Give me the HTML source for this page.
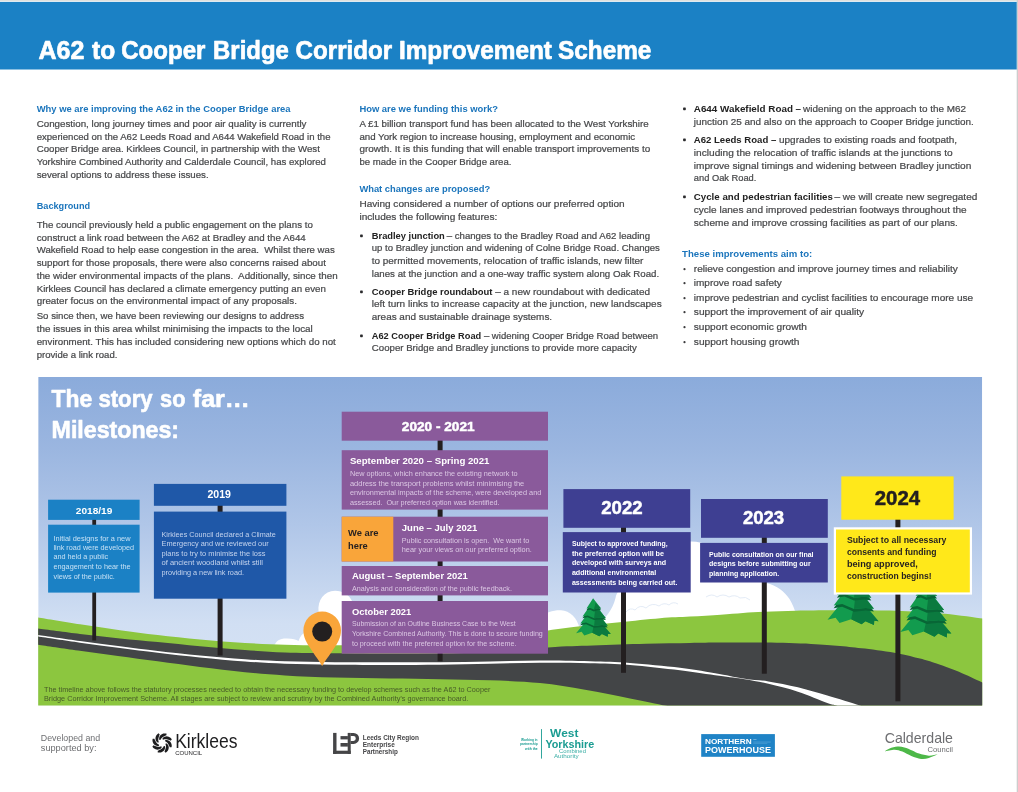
<!DOCTYPE html>
<html><head><meta charset="utf-8"><title>A62 to Cooper Bridge Corridor Improvement Scheme</title>
<style>
html,body{margin:0;padding:0;background:#fff;}
body{width:1018px;height:792px;overflow:hidden;font-family:"Liberation Sans",sans-serif;}
svg{display:block;font-family:"Liberation Sans",sans-serif;}
text{white-space:pre;}
</style></head><body>
<svg width="1018" height="792" viewBox="0 0 1018 792" style="will-change:transform">
<rect x="0.0" y="0.0" width="1018.0" height="792.0" fill="#ffffff"/>
<rect x="0.0" y="0.0" width="1018.0" height="1.2" fill="#e0e0dd"/>
<rect x="0.0" y="1.2" width="1018.0" height="0.9" fill="#d6e6f1"/>
<rect x="1016.7" y="0.0" width="1.3" height="792.0" fill="#cdcdcd"/>
<rect x="0.0" y="2.0" width="1016.7" height="67.5" fill="#1b81c5"/>
<text x="38.5" y="59.0" font-size="26" fill="#fff" font-weight="bold" textLength="45.9" lengthAdjust="spacingAndGlyphs" stroke="#fff" stroke-width="0.7" stroke-linejoin="round">A62</text>
<text x="92.0" y="59.0" font-size="26" fill="#fff" font-weight="bold" textLength="23.2" lengthAdjust="spacingAndGlyphs" stroke="#fff" stroke-width="0.7" stroke-linejoin="round">to</text>
<text x="121.2" y="59.0" font-size="26" fill="#fff" font-weight="bold" textLength="84.2" lengthAdjust="spacingAndGlyphs" stroke="#fff" stroke-width="0.7" stroke-linejoin="round">Cooper</text>
<text x="213.1" y="59.0" font-size="26" fill="#fff" font-weight="bold" textLength="75.7" lengthAdjust="spacingAndGlyphs" stroke="#fff" stroke-width="0.7" stroke-linejoin="round">Bridge</text>
<text x="295.6" y="59.0" font-size="26" fill="#fff" font-weight="bold" textLength="96.5" lengthAdjust="spacingAndGlyphs" stroke="#fff" stroke-width="0.7" stroke-linejoin="round">Corridor</text>
<text x="398.9" y="59.0" font-size="26" fill="#fff" font-weight="bold" textLength="153.1" lengthAdjust="spacingAndGlyphs" stroke="#fff" stroke-width="0.7" stroke-linejoin="round">Improvement</text>
<text x="558.1" y="59.0" font-size="26" fill="#fff" font-weight="bold" textLength="93.3" lengthAdjust="spacingAndGlyphs" stroke="#fff" stroke-width="0.7" stroke-linejoin="round">Scheme</text>
<text x="36.7" y="111.8" font-size="9.6" fill="#1b75bc" font-weight="bold" textLength="253.9" lengthAdjust="spacingAndGlyphs">Why we are improving the A62 in the Cooper Bridge area</text>
<text x="36.7" y="127.0" font-size="9.6" fill="#48494b" textLength="269.8" lengthAdjust="spacingAndGlyphs" stroke="#48494b" stroke-width="0.22">Congestion, long journey times and poor air quality is currently</text>
<text x="36.7" y="139.8" font-size="9.6" fill="#48494b" textLength="293.8" lengthAdjust="spacingAndGlyphs" stroke="#48494b" stroke-width="0.22">experienced on the A62 Leeds Road and A644 Wakefield Road in the</text>
<text x="36.7" y="152.2" font-size="9.6" fill="#48494b" textLength="283.2" lengthAdjust="spacingAndGlyphs" stroke="#48494b" stroke-width="0.22">Cooper Bridge area. Kirklees Council, in partnership with the West</text>
<text x="36.7" y="164.9" font-size="9.6" fill="#48494b" textLength="289.2" lengthAdjust="spacingAndGlyphs" stroke="#48494b" stroke-width="0.22">Yorkshire Combined Authority and Calderdale Council, has explored</text>
<text x="36.7" y="177.6" font-size="9.6" fill="#48494b" textLength="171.9" lengthAdjust="spacingAndGlyphs" stroke="#48494b" stroke-width="0.22">several options to address these issues.</text>
<text x="36.7" y="208.7" font-size="9.6" fill="#1b75bc" font-weight="bold" textLength="53.4" lengthAdjust="spacingAndGlyphs">Background</text>
<text x="36.7" y="227.7" font-size="9.6" fill="#48494b" textLength="276.1" lengthAdjust="spacingAndGlyphs" stroke="#48494b" stroke-width="0.22">The council previously held a public engagement on the plans to</text>
<text x="36.7" y="240.6" font-size="9.6" fill="#48494b" textLength="269.1" lengthAdjust="spacingAndGlyphs" stroke="#48494b" stroke-width="0.22">construct a link road between the A62 at Bradley and the A644</text>
<text x="36.7" y="253.1" font-size="9.6" fill="#48494b" textLength="298.0" lengthAdjust="spacingAndGlyphs" stroke="#48494b" stroke-width="0.22">Wakefield Road to help ease congestion in the area.  Whilst there was</text>
<text x="36.7" y="265.9" font-size="9.6" fill="#48494b" textLength="289.2" lengthAdjust="spacingAndGlyphs" stroke="#48494b" stroke-width="0.22">support for those proposals, there were also concerns raised about</text>
<text x="36.7" y="278.6" font-size="9.6" fill="#48494b" textLength="300.9" lengthAdjust="spacingAndGlyphs" stroke="#48494b" stroke-width="0.22">the wider environmental impacts of the plans.  Additionally, since then</text>
<text x="36.7" y="291.6" font-size="9.6" fill="#48494b" textLength="289.2" lengthAdjust="spacingAndGlyphs" stroke="#48494b" stroke-width="0.22">Kirklees Council has declared a climate emergency putting an even</text>
<text x="36.7" y="304.0" font-size="9.6" fill="#48494b" textLength="260.2" lengthAdjust="spacingAndGlyphs" stroke="#48494b" stroke-width="0.22">greater focus on the environmental impact of any proposals.</text>
<text x="36.7" y="319.1" font-size="9.6" fill="#48494b" textLength="267.3" lengthAdjust="spacingAndGlyphs" stroke="#48494b" stroke-width="0.22">So since then, we have been reviewing our designs to address</text>
<text x="36.7" y="332.0" font-size="9.6" fill="#48494b" textLength="276.1" lengthAdjust="spacingAndGlyphs" stroke="#48494b" stroke-width="0.22">the issues in this area whilst minimising the impacts to the local</text>
<text x="36.7" y="344.8" font-size="9.6" fill="#48494b" textLength="299.1" lengthAdjust="spacingAndGlyphs" stroke="#48494b" stroke-width="0.22">environment. This has included considering new options which do not</text>
<text x="36.7" y="357.9" font-size="9.6" fill="#48494b" textLength="80.7" lengthAdjust="spacingAndGlyphs" stroke="#48494b" stroke-width="0.22">provide a link road.</text>
<text x="359.4" y="111.7" font-size="9.6" fill="#1b75bc" font-weight="bold" textLength="138.6" lengthAdjust="spacingAndGlyphs">How are we funding this work?</text>
<text x="359.4" y="127.0" font-size="9.6" fill="#48494b" textLength="289.2" lengthAdjust="spacingAndGlyphs" stroke="#48494b" stroke-width="0.22">A £1 billion transport fund has been allocated to the West Yorkshire</text>
<text x="359.4" y="139.7" font-size="9.6" fill="#48494b" textLength="275.8" lengthAdjust="spacingAndGlyphs" stroke="#48494b" stroke-width="0.22">and York region to increase housing, employment and economic</text>
<text x="359.4" y="152.0" font-size="9.6" fill="#48494b" textLength="291.0" lengthAdjust="spacingAndGlyphs" stroke="#48494b" stroke-width="0.22">growth. It is this funding that will enable transport improvements to</text>
<text x="359.4" y="164.6" font-size="9.6" fill="#48494b" textLength="152.0" lengthAdjust="spacingAndGlyphs" stroke="#48494b" stroke-width="0.22">be made in the Cooper Bridge area.</text>
<text x="359.4" y="192.3" font-size="9.6" fill="#1b75bc" font-weight="bold" textLength="130.8" lengthAdjust="spacingAndGlyphs">What changes are proposed?</text>
<text x="359.4" y="206.8" font-size="9.6" fill="#48494b" textLength="265.2" lengthAdjust="spacingAndGlyphs" stroke="#48494b" stroke-width="0.22">Having considered a number of options our preferred option</text>
<text x="359.4" y="219.6" font-size="9.6" fill="#48494b" textLength="137.9" lengthAdjust="spacingAndGlyphs" stroke="#48494b" stroke-width="0.22">includes the following features:</text>
<rect x="360.1" y="234.4" width="2.7" height="2.8" rx="0.7" fill="#2a2a2c"/>
<text x="371.8" y="238.8" font-size="9.6" fill="#222" font-weight="bold" textLength="73.0" lengthAdjust="spacingAndGlyphs">Bradley junction</text>
<text x="446.8" y="238.8" font-size="9.6" fill="#48494b" textLength="203.2" lengthAdjust="spacingAndGlyphs" stroke="#48494b" stroke-width="0.22">– changes to the Bradley Road and A62 leading</text>
<text x="371.8" y="251.4" font-size="9.6" fill="#48494b" textLength="288.1" lengthAdjust="spacingAndGlyphs" stroke="#48494b" stroke-width="0.22">up to Bradley junction and widening of Colne Bridge Road. Changes</text>
<text x="371.8" y="263.9" font-size="9.6" fill="#48494b" textLength="271.5" lengthAdjust="spacingAndGlyphs" stroke="#48494b" stroke-width="0.22">to permitted movements, relocation of traffic islands, new filter</text>
<text x="371.8" y="276.6" font-size="9.6" fill="#48494b" textLength="287.4" lengthAdjust="spacingAndGlyphs" stroke="#48494b" stroke-width="0.22">lanes at the junction and a one-way traffic system along Oak Road.</text>
<rect x="360.1" y="290.4" width="2.7" height="2.8" rx="0.7" fill="#2a2a2c"/>
<text x="371.8" y="294.6" font-size="9.6" fill="#222" font-weight="bold" textLength="120.7" lengthAdjust="spacingAndGlyphs">Cooper Bridge roundabout</text>
<text x="495.2" y="294.6" font-size="9.6" fill="#48494b" textLength="154.8" lengthAdjust="spacingAndGlyphs" stroke="#48494b" stroke-width="0.22">– a new roundabout with dedicated</text>
<text x="371.8" y="307.4" font-size="9.6" fill="#48494b" textLength="289.9" lengthAdjust="spacingAndGlyphs" stroke="#48494b" stroke-width="0.22">left turn links to increase capacity at the junction, new landscapes</text>
<text x="371.8" y="320.3" font-size="9.6" fill="#48494b" textLength="180.3" lengthAdjust="spacingAndGlyphs" stroke="#48494b" stroke-width="0.22">areas and sustainable drainage systems.</text>
<rect x="360.1" y="334.4" width="2.7" height="2.8" rx="0.7" fill="#2a2a2c"/>
<text x="371.8" y="338.7" font-size="9.6" fill="#222" font-weight="bold" textLength="109.4" lengthAdjust="spacingAndGlyphs">A62 Cooper Bridge Road</text>
<text x="483.9" y="338.7" font-size="9.6" fill="#48494b" textLength="174.2" lengthAdjust="spacingAndGlyphs" stroke="#48494b" stroke-width="0.22">– widening Cooper Bridge Road between</text>
<text x="371.8" y="351.3" font-size="9.6" fill="#48494b" textLength="265.1" lengthAdjust="spacingAndGlyphs" stroke="#48494b" stroke-width="0.22">Cooper Bridge and Bradley junctions to provide more capacity</text>
<rect x="683.1" y="107.4" width="2.7" height="2.8" rx="0.7" fill="#2a2a2c"/>
<text x="693.8" y="111.7" font-size="9.6" fill="#222" font-weight="bold" textLength="107.3" lengthAdjust="spacingAndGlyphs">A644 Wakefield Road –</text>
<text x="803.1" y="111.7" font-size="9.6" fill="#48494b" textLength="162.9" lengthAdjust="spacingAndGlyphs" stroke="#48494b" stroke-width="0.22">widening on the approach to the M62</text>
<text x="693.8" y="124.6" font-size="9.6" fill="#48494b" textLength="280.0" lengthAdjust="spacingAndGlyphs" stroke="#48494b" stroke-width="0.22">junction 25 and also on the approach to Cooper Bridge junction.</text>
<rect x="683.1" y="138.4" width="2.7" height="2.8" rx="0.7" fill="#2a2a2c"/>
<text x="693.8" y="142.7" font-size="9.6" fill="#222" font-weight="bold" textLength="82.5" lengthAdjust="spacingAndGlyphs">A62 Leeds Road –</text>
<text x="779.0" y="142.7" font-size="9.6" fill="#48494b" textLength="178.1" lengthAdjust="spacingAndGlyphs" stroke="#48494b" stroke-width="0.22">upgrades to existing roads and footpath,</text>
<text x="693.8" y="155.7" font-size="9.6" fill="#48494b" textLength="258.8" lengthAdjust="spacingAndGlyphs" stroke="#48494b" stroke-width="0.22">including the relocation of traffic islands at the junctions to</text>
<text x="693.8" y="168.6" font-size="9.6" fill="#48494b" textLength="277.5" lengthAdjust="spacingAndGlyphs" stroke="#48494b" stroke-width="0.22">improve signal timings and widening between Bradley junction</text>
<text x="693.8" y="181.4" font-size="9.6" fill="#48494b" textLength="62.6" lengthAdjust="spacingAndGlyphs" stroke="#48494b" stroke-width="0.22">and Oak Road.</text>
<rect x="683.1" y="195.4" width="2.7" height="2.8" rx="0.7" fill="#2a2a2c"/>
<text x="693.8" y="199.8" font-size="9.6" fill="#222" font-weight="bold" textLength="139.1" lengthAdjust="spacingAndGlyphs">Cycle and pedestrian facilities</text>
<text x="834.5" y="199.8" font-size="9.6" fill="#48494b" textLength="142.8" lengthAdjust="spacingAndGlyphs" stroke="#48494b" stroke-width="0.22">– we will create new segregated</text>
<text x="693.8" y="212.8" font-size="9.6" fill="#48494b" textLength="272.9" lengthAdjust="spacingAndGlyphs" stroke="#48494b" stroke-width="0.22">cycle lanes and improved pedestrian footways throughout the</text>
<text x="693.8" y="225.7" font-size="9.6" fill="#48494b" textLength="264.1" lengthAdjust="spacingAndGlyphs" stroke="#48494b" stroke-width="0.22">scheme and improve crossing facilities as part of our plans.</text>
<text x="682.1" y="256.7" font-size="9.6" fill="#1b75bc" font-weight="bold" textLength="130.1" lengthAdjust="spacingAndGlyphs">These improvements aim to:</text>
<circle cx="684.5" cy="269.2" r="1.1" fill="#3a3a3c"/>
<text x="693.8" y="271.6" font-size="9.6" fill="#48494b" textLength="264.1" lengthAdjust="spacingAndGlyphs" stroke="#48494b" stroke-width="0.22">relieve congestion and improve journey times and reliability</text>
<circle cx="684.5" cy="283.2" r="1.1" fill="#3a3a3c"/>
<text x="693.8" y="286.1" font-size="9.6" fill="#48494b" textLength="88.0" lengthAdjust="spacingAndGlyphs" stroke="#48494b" stroke-width="0.22">improve road safety</text>
<circle cx="684.5" cy="298.2" r="1.1" fill="#3a3a3c"/>
<text x="693.8" y="300.7" font-size="9.6" fill="#48494b" textLength="279.3" lengthAdjust="spacingAndGlyphs" stroke="#48494b" stroke-width="0.22">improve pedestrian and cyclist facilities to encourage more use</text>
<circle cx="684.5" cy="312.2" r="1.1" fill="#3a3a3c"/>
<text x="693.8" y="315.3" font-size="9.6" fill="#48494b" textLength="170.4" lengthAdjust="spacingAndGlyphs" stroke="#48494b" stroke-width="0.22">support the improvement of air quality</text>
<circle cx="684.5" cy="327.2" r="1.1" fill="#3a3a3c"/>
<text x="693.8" y="329.9" font-size="9.6" fill="#48494b" textLength="113.1" lengthAdjust="spacingAndGlyphs" stroke="#48494b" stroke-width="0.22">support economic growth</text>
<circle cx="684.5" cy="342.2" r="1.1" fill="#3a3a3c"/>
<text x="693.8" y="344.6" font-size="9.6" fill="#48494b" textLength="105.7" lengthAdjust="spacingAndGlyphs" stroke="#48494b" stroke-width="0.22">support housing growth</text>
<defs>
<linearGradient id="sky" x1="0" y1="0" x2="0" y2="1"><stop offset="0" stop-color="#8babdb"/><stop offset="0.22" stop-color="#9bb6e0"/><stop offset="0.45" stop-color="#b0c6e8"/><stop offset="0.75" stop-color="#d1dff3"/><stop offset="1" stop-color="#d8e4f5"/></linearGradient>
<clipPath id="gclip"><rect x="38.2" y="377" width="944" height="328.5"/></clipPath>
<g id="tree"><polygon fill="#129b4e" points="0.0,14.0 -17.0,34.9 -11.5,33.5 -8.8,37.1 -0.9,34.5 6.2,38.0 8.8,35.8 14.6,38.5 14.8,35.6 17.7,35.8"/><polygon fill="#0b7a3f" points="2.5,18.5 -0.9,34.5 6.2,38.0 8.8,35.8 14.6,38.5 14.8,35.6 17.7,35.8"/><polygon fill="#086636" points="0.0,9.8 -12.8,27.0 -7.0,26.0 1.0,29.4 9.0,28.6 14.6,29.2"/><polygon fill="#129b4e" points="0.0,8.0 -12.8,25.2 -7.0,24.2 1.0,27.6 9.0,26.8 14.6,27.4"/><polygon fill="#0b7a3f" points="2.5,12.5 1.0,27.6 9.0,26.8 14.6,27.4"/><polygon fill="#086636" points="0.0,4.8 -10.6,19.9 -5.5,19.0 1.0,21.7 8.0,21.1 12.8,21.7"/><polygon fill="#129b4e" points="0.0,3.0 -10.6,18.1 -5.5,17.2 1.0,19.9 8.0,19.3 12.8,19.9"/><polygon fill="#0b7a3f" points="2.5,7.5 1.0,19.9 8.0,19.3 12.8,19.9"/><polygon fill="#086636" points="0.0,1.8 -6.6,12.0 -3.0,11.4 0.8,13.1 5.0,11.8 8.0,12.0"/><polygon fill="#129b4e" points="0.0,0.0 -6.6,10.2 -3.0,9.6 0.8,11.3 5.0,10.0 8.0,10.2"/><polygon fill="#0b7a3f" points="2.5,4.5 0.8,11.3 5.0,10.0 8.0,10.2"/></g>
</defs>
<g clip-path="url(#gclip)">
<rect x="38.2" y="377.0" width="944.0" height="328.5" fill="url(#sky)"/>
<g fill="#ffffff">
<path d="M274,646 C276,641 280,638.6 286,638.6 C292,638.4 296,639.5 298.5,641 C300,636 303,633 306,632 C308,622 312,615 318.5,612 C317.5,600 324,591 335,590.8 C343,590.8 349,595 352,601 L352,650 L274,650 Z"/>
<path d="M540,640 L540,618 C546,612 553,610 561,610.2 C570,610.5 577,618 579.5,628 L580,640 Z"/>
<ellipse cx="691" cy="602" rx="52" ry="60.5"/>
<path d="M594,632 L597,624 C605,619.5 612.5,610 615.5,598 C616.5,592 621,587 628,585.5 C640,583.5 650,584 660,584 L700,587 C720,582 750,580 766,583 C777,585.5 785,592 789.5,599 C792.5,604 794.5,609 796,614 L796,632 Z"/>
</g>
<path d="M626,612 q4,-5 9,-2 q5,-6 11,-2 q6,-6 13,-2 q5,-4 10,-1 q4,-4 9,-1 M706,597 q6,-4 11,0 q6,-4 12,0 q6,-3 11,1 q6,-2 10,2" fill="none" stroke="#e4ecf7" stroke-width="1"/>
<path fill="#8cc63f" d="M38.0,617.4 C45.0,618.5 66.3,622.1 80.0,624.2 C93.7,626.3 107.0,628.4 120.0,630.2 C132.9,632.0 144.4,633.5 157.7,635.0 C171.0,636.5 185.4,638.2 200.0,639.5 C214.6,640.8 230.8,642.1 245.0,643.0 C259.2,643.9 272.5,644.3 285.0,644.7 C297.5,645.1 310.0,645.2 320.0,645.3 C330.0,645.4 331.7,645.3 345.0,645.3 C358.3,645.2 380.8,645.5 400.0,645.0 C419.2,644.5 441.7,643.8 460.0,642.5 C478.3,641.2 495.3,639.0 510.0,637.0 C524.7,635.0 536.3,632.2 548.0,630.4 C559.7,628.6 568.1,627.7 580.0,626.3 C591.9,624.9 606.3,623.6 619.6,622.2 C632.9,620.9 648.3,619.1 660.0,618.2 C671.7,617.3 679.9,617.2 690.0,616.6 C700.1,616.0 711.9,615.3 720.7,614.7 C729.5,614.1 735.6,613.4 743.0,612.9 C750.4,612.4 756.2,612.1 765.0,611.7 C773.8,611.3 785.0,610.9 796.0,610.7 C807.0,610.5 821.2,610.4 831.0,610.3 C840.8,610.2 843.2,610.2 855.0,610.3 C866.8,610.4 886.5,610.4 901.5,611.0 C916.5,611.6 931.4,612.5 945.0,613.8 C958.6,615.1 976.7,617.8 983.0,618.6 L983,706 L38,706 Z"/>
<path fill="#434547" d="M38.0,628.6 C45.0,629.5 66.3,632.4 80.0,634.0 C93.7,635.6 107.0,637.1 120.0,638.5 C132.9,639.9 144.4,640.8 157.7,642.1 C171.0,643.4 185.4,645.0 200.0,646.3 C214.6,647.6 230.8,649.0 245.0,650.0 C259.2,651.0 270.3,651.9 285.0,652.4 C299.7,652.9 313.8,652.9 333.0,653.2 C352.2,653.5 377.2,654.1 400.0,654.0 C422.8,653.9 445.3,653.9 470.0,652.8 C494.7,651.7 527.5,648.6 548.0,647.4 C568.5,646.2 576.7,646.2 593.0,645.6 C609.3,645.0 629.8,644.2 646.0,643.8 C662.2,643.4 677.5,643.2 690.0,643.0 C702.5,642.8 708.2,642.7 720.7,642.6 C733.2,642.5 750.0,642.4 765.0,642.6 C780.0,642.8 798.5,643.4 811.0,643.9 C823.5,644.4 831.0,645.1 840.0,645.9 C849.0,646.7 855.3,647.4 865.0,648.6 C874.7,649.9 888.8,651.7 898.0,653.4 C907.2,655.1 913.6,656.9 920.0,658.6 C926.4,660.3 929.6,661.2 936.6,663.6 C943.6,666.0 954.3,670.0 962.0,673.2 C969.7,676.4 979.5,681.2 983.0,682.8 L983,710 L680,710 L680,709 C677.7,708.5 674.3,707.6 666.0,705.8 C657.7,704.0 643.5,701.1 630.0,698.4 C616.5,695.7 600.0,692.4 585.0,689.8 C570.0,687.2 555.8,684.6 540.0,683.0 C524.2,681.4 506.7,680.8 490.0,680.2 C473.3,679.6 456.7,679.5 440.0,679.2 C423.3,678.9 407.5,678.9 390.0,678.6 C372.5,678.3 352.5,678.0 335.0,677.5 C317.5,677.0 300.0,676.3 285.0,675.4 C270.0,674.5 259.2,673.6 245.0,672.2 C230.8,670.8 214.6,668.8 200.0,667.0 C185.4,665.2 171.4,663.1 157.7,661.3 C144.0,659.5 131.3,657.8 118.0,656.0 C104.7,654.2 91.3,652.4 78.0,650.5 C64.7,648.6 44.7,645.7 38.0,644.7 Z"/>
<path fill="#ffffff" d="M38.0,634.9 C45.0,635.9 66.3,639.0 80.0,640.9 C93.7,642.8 107.0,644.6 120.0,646.3 C132.9,648.0 144.4,649.4 157.7,650.9 C171.0,652.4 185.4,654.0 200.0,655.4 C214.6,656.8 230.8,658.2 245.0,659.2 C259.2,660.2 270.0,660.8 285.0,661.3 C300.0,661.8 317.5,662.0 335.0,662.2 C352.5,662.4 372.5,662.3 390.0,662.3 C407.5,662.3 423.3,662.4 440.0,662.2 C456.7,662.1 473.3,661.7 490.0,661.4 C506.7,661.1 523.3,660.6 540.0,660.6 C556.7,660.6 575.0,660.9 590.0,661.3 C605.0,661.7 615.0,661.8 630.0,662.9 C645.0,664.0 665.1,665.9 680.0,667.7 C694.9,669.5 708.5,672.1 719.3,673.9 C730.1,675.7 736.6,677.5 744.8,678.7 C753.0,680.0 759.5,680.0 768.4,681.4 C777.2,682.8 788.1,684.9 797.9,687.3 C807.7,689.7 817.0,692.6 827.3,695.6 C837.6,698.6 852.3,703.2 859.8,705.5 C867.2,707.8 870.0,708.8 872.0,709.5 L846.0,709.5 C844.4,708.8 839.3,706.6 836.2,705.5 C833.1,704.4 833.7,705.3 827.3,703.0 C820.9,700.7 807.7,694.9 797.9,691.7 C788.1,688.5 777.2,685.9 768.4,683.8 C759.5,681.7 753.0,680.5 744.8,679.2 C736.6,677.9 730.1,677.3 719.3,675.8 C708.5,674.3 694.9,672.0 680.0,670.2 C665.1,668.4 645.0,666.1 630.0,664.9 C615.0,663.7 605.0,663.6 590.0,663.2 C575.0,662.8 556.7,662.6 540.0,662.7 C523.3,662.8 506.7,663.4 490.0,663.7 C473.3,664.0 456.7,664.5 440.0,664.7 C423.3,664.9 407.5,664.9 390.0,664.9 C372.5,664.9 352.5,665.0 335.0,664.8 C317.5,664.6 300.0,664.3 285.0,663.8 C270.0,663.2 259.2,662.5 245.0,661.5 C230.8,660.5 214.6,659.0 200.0,657.5 C185.4,656.0 171.0,654.4 157.7,652.8 C144.4,651.2 132.9,649.8 120.0,648.1 C107.0,646.4 93.7,644.6 80.0,642.7 C66.3,640.8 45.0,637.6 38.0,636.6 Z"/>
<use href="#tree" transform="translate(593.1,598.3)"/>
<use href="#tree" transform="translate(852.5,568.5) scale(1.47)"/>
<use href="#tree" transform="translate(925.3,580.8) scale(1.47)"/>
<rect x="92.3" y="515.0" width="3.8" height="125.5" fill="#231f20"/>
<rect x="217.6" y="500.0" width="5.0" height="155.5" fill="#231f20"/>
<rect x="437.6" y="436.0" width="5.0" height="225.3" fill="#231f20"/>
<rect x="621.0" y="520.0" width="5.0" height="152.8" fill="#231f20"/>
<rect x="761.8" y="530.0" width="5.0" height="143.7" fill="#231f20"/>
<rect x="895.4" y="515.0" width="5.0" height="186.3" fill="#231f20"/>
<path fill="#f9a53a" d="M322.2,666.3 C320.5,662 308,646.5 305.5,640.0 C304.2,637 303.4,633.8 303.4,630.4 A18.8,18.8 0 1 1 341,630.4 C341,633.8 340.2,637 338.9,640.0 C336.4,646.5 323.9,662 322.2,666.3 Z"/>
<circle cx="322.2" cy="631.6" r="10" fill="#231f20"/>
<rect x="48.1" y="499.7" width="91.5" height="20.2" fill="#1b81c5"/>
<rect x="48.1" y="524.7" width="91.5" height="67.9" fill="#1b81c5"/>
<rect x="153.9" y="483.9" width="132.5" height="21.9" fill="#1f58a8"/>
<rect x="153.9" y="511.6" width="132.5" height="87.1" fill="#1f58a8"/>
<rect x="341.7" y="411.7" width="206.3" height="29.0" fill="#8a5a9b"/>
<rect x="341.7" y="450.2" width="206.3" height="59.4" fill="#8a5a9b"/>
<rect x="341.7" y="516.7" width="206.3" height="44.8" fill="#8a5a9b"/>
<rect x="341.7" y="516.7" width="51.6" height="44.8" fill="#f9a53a"/>
<rect x="341.7" y="566.0" width="206.3" height="29.4" fill="#8a5a9b"/>
<rect x="341.7" y="601.0" width="206.3" height="52.7" fill="#8a5a9b"/>
<rect x="563.4" y="489.1" width="126.8" height="38.7" fill="#3e3f92"/>
<rect x="562.8" y="532.1" width="127.9" height="60.4" fill="#3e3f92"/>
<rect x="701.0" y="499.0" width="126.8" height="38.8" fill="#3e3f92"/>
<rect x="700.1" y="542.9" width="127.7" height="39.6" fill="#3e3f92"/>
<rect x="841.3" y="476.4" width="112.3" height="43.3" fill="#ffe81a"/>
<rect x="833.8" y="527.3" width="138.2" height="67.3" fill="#ffffff"/>
<rect x="836.0" y="529.5" width="133.8" height="62.9" fill="#ffe81a"/>
</g>
<text x="51.6" y="407.3" font-size="24.6" fill="#fff" font-weight="bold" textLength="40.7" lengthAdjust="spacingAndGlyphs" stroke="#fff" stroke-width="0.6" stroke-linejoin="round">The</text>
<text x="98.4" y="407.3" font-size="24.6" fill="#fff" font-weight="bold" textLength="54.2" lengthAdjust="spacingAndGlyphs" stroke="#fff" stroke-width="0.6" stroke-linejoin="round">story</text>
<text x="160.1" y="407.3" font-size="24.6" fill="#fff" font-weight="bold" textLength="25.3" lengthAdjust="spacingAndGlyphs" stroke="#fff" stroke-width="0.6" stroke-linejoin="round">so</text>
<text x="192.8" y="407.3" font-size="24.6" fill="#fff" font-weight="bold" textLength="57.0" lengthAdjust="spacingAndGlyphs" stroke="#fff" stroke-width="0.6" stroke-linejoin="round">far…</text>
<text x="51.6" y="437.8" font-size="24.6" fill="#fff" font-weight="bold" textLength="127.5" lengthAdjust="spacingAndGlyphs" stroke="#fff" stroke-width="0.6" stroke-linejoin="round">Milestones:</text>
<text x="75.8" y="513.8" font-size="9.6" fill="#fff" font-weight="bold" textLength="36.5" lengthAdjust="spacingAndGlyphs">2018/19</text>
<text x="53.5" y="540.9" font-size="7.6" fill="#c6e1f5" textLength="77.0" lengthAdjust="spacingAndGlyphs">Initial designs for a new</text>
<text x="53.5" y="549.8" font-size="7.6" fill="#c6e1f5" textLength="80.5" lengthAdjust="spacingAndGlyphs">link road were developed</text>
<text x="53.5" y="559.4" font-size="7.6" fill="#c6e1f5" textLength="54.6" lengthAdjust="spacingAndGlyphs">and held a public</text>
<text x="53.5" y="569.4" font-size="7.6" fill="#c6e1f5" textLength="77.0" lengthAdjust="spacingAndGlyphs">engagement to hear the</text>
<text x="53.5" y="578.7" font-size="7.6" fill="#c6e1f5" textLength="61.3" lengthAdjust="spacingAndGlyphs">views of the public.</text>
<text x="207.4" y="497.8" font-size="10.5" fill="#fff" font-weight="bold" textLength="23.5" lengthAdjust="spacingAndGlyphs">2019</text>
<text x="161.5" y="536.6" font-size="7.6" fill="#c5d4ee" textLength="114.3" lengthAdjust="spacingAndGlyphs">Kirklees Council declared a Climate</text>
<text x="161.5" y="546.2" font-size="7.6" fill="#c5d4ee" textLength="107.2" lengthAdjust="spacingAndGlyphs">Emergency and we reviewed our</text>
<text x="161.5" y="555.8" font-size="7.6" fill="#c5d4ee" textLength="103.9" lengthAdjust="spacingAndGlyphs">plans to try to minimise the loss</text>
<text x="161.5" y="565.4" font-size="7.6" fill="#c5d4ee" textLength="101.4" lengthAdjust="spacingAndGlyphs">of ancient woodland whilst still</text>
<text x="161.5" y="575.0" font-size="7.6" fill="#c5d4ee" textLength="82.5" lengthAdjust="spacingAndGlyphs">providing a new link road.</text>
<text x="401.8" y="431.0" font-size="13.7" fill="#fff" font-weight="bold" textLength="72.8" lengthAdjust="spacingAndGlyphs" stroke="#fff" stroke-width="0.5">2020 - 2021</text>
<text x="349.9" y="464.4" font-size="9.4" fill="#fff" font-weight="bold" textLength="139.6" lengthAdjust="spacingAndGlyphs">September 2020 – Spring 2021</text>
<text x="349.9" y="476.1" font-size="7.6" fill="#dcc8e4" textLength="167.6" lengthAdjust="spacingAndGlyphs">New options, which enhance the existing network to</text>
<text x="349.9" y="485.7" font-size="7.6" fill="#dcc8e4" textLength="174.4" lengthAdjust="spacingAndGlyphs">address the transport problems whilst minimising the</text>
<text x="349.9" y="495.3" font-size="7.6" fill="#dcc8e4" textLength="191.4" lengthAdjust="spacingAndGlyphs">environmental impacts of the scheme, were developed and</text>
<text x="349.9" y="504.9" font-size="7.6" fill="#dcc8e4" textLength="149.6" lengthAdjust="spacingAndGlyphs">assessed.  Our preferred option was identified.</text>
<text x="348.0" y="535.5" font-size="9.6" fill="#231f20" font-weight="bold" textLength="30.6" lengthAdjust="spacingAndGlyphs">We are</text>
<text x="348.0" y="548.6" font-size="9.6" fill="#231f20" font-weight="bold" textLength="19.7" lengthAdjust="spacingAndGlyphs">here</text>
<text x="401.8" y="531.0" font-size="9.4" fill="#fff" font-weight="bold" textLength="75.5" lengthAdjust="spacingAndGlyphs">June – July 2021</text>
<text x="401.8" y="542.7" font-size="7.6" fill="#dcc8e4" textLength="127.5" lengthAdjust="spacingAndGlyphs">Public consultation is open.  We want to</text>
<text x="401.8" y="552.1" font-size="7.6" fill="#dcc8e4" textLength="130.0" lengthAdjust="spacingAndGlyphs">hear your views on our preferred option.</text>
<text x="351.9" y="579.1" font-size="9.4" fill="#fff" font-weight="bold" textLength="115.9" lengthAdjust="spacingAndGlyphs">August – September 2021</text>
<text x="351.9" y="590.9" font-size="7.6" fill="#dcc8e4" textLength="160.0" lengthAdjust="spacingAndGlyphs">Analysis and consideration of the public feedback.</text>
<text x="351.9" y="615.0" font-size="9.4" fill="#fff" font-weight="bold" textLength="59.4" lengthAdjust="spacingAndGlyphs">October 2021</text>
<text x="351.9" y="625.9" font-size="7.6" fill="#dcc8e4" textLength="163.8" lengthAdjust="spacingAndGlyphs">Submission of an Outline Business Case to the West</text>
<text x="351.9" y="635.7" font-size="7.6" fill="#dcc8e4" textLength="190.9" lengthAdjust="spacingAndGlyphs">Yorkshire Combined Authority. This is done to secure funding</text>
<text x="351.9" y="645.5" font-size="7.6" fill="#dcc8e4" textLength="164.5" lengthAdjust="spacingAndGlyphs">to proceed with the preferred option for the scheme.</text>
<text x="601.3" y="514.2" font-size="18" fill="#fff" font-weight="bold" textLength="41.3" lengthAdjust="spacingAndGlyphs" stroke="#fff" stroke-width="0.5">2022</text>
<text x="571.9" y="546.0" font-size="7.4" fill="#fff" font-weight="bold" textLength="95.8" lengthAdjust="spacingAndGlyphs">Subject to approved funding,</text>
<text x="571.9" y="555.7" font-size="7.4" fill="#fff" font-weight="bold" textLength="92.1" lengthAdjust="spacingAndGlyphs">the preferred option will be</text>
<text x="571.9" y="565.4" font-size="7.4" fill="#fff" font-weight="bold" textLength="94.3" lengthAdjust="spacingAndGlyphs">developed with surveys and</text>
<text x="571.9" y="575.0" font-size="7.4" fill="#fff" font-weight="bold" textLength="84.4" lengthAdjust="spacingAndGlyphs">additional environmental</text>
<text x="571.9" y="584.6" font-size="7.4" fill="#fff" font-weight="bold" textLength="105.5" lengthAdjust="spacingAndGlyphs">assessments being carried out.</text>
<text x="742.9" y="524.1" font-size="18" fill="#fff" font-weight="bold" textLength="41.3" lengthAdjust="spacingAndGlyphs" stroke="#fff" stroke-width="0.5">2023</text>
<text x="709.0" y="556.9" font-size="7.4" fill="#fff" font-weight="bold" textLength="104.5" lengthAdjust="spacingAndGlyphs">Public consultation on our final</text>
<text x="709.0" y="566.3" font-size="7.4" fill="#fff" font-weight="bold" textLength="101.7" lengthAdjust="spacingAndGlyphs">designs before submitting our</text>
<text x="709.0" y="575.7" font-size="7.4" fill="#fff" font-weight="bold" textLength="70.3" lengthAdjust="spacingAndGlyphs">planning application.</text>
<text x="874.8" y="505.0" font-size="20" fill="#231f20" font-weight="bold" textLength="45.3" lengthAdjust="spacingAndGlyphs" stroke="#231f20" stroke-width="0.5">2024</text>
<text x="846.9" y="543.0" font-size="9" fill="#231f20" font-weight="bold" textLength="99.5" lengthAdjust="spacingAndGlyphs">Subject to all necessary</text>
<text x="846.9" y="555.1" font-size="9" fill="#231f20" font-weight="bold" textLength="89.6" lengthAdjust="spacingAndGlyphs">consents and funding</text>
<text x="846.9" y="567.1" font-size="9" fill="#231f20" font-weight="bold" textLength="70.9" lengthAdjust="spacingAndGlyphs">being approved,</text>
<text x="846.9" y="579.1" font-size="9" fill="#231f20" font-weight="bold" textLength="84.7" lengthAdjust="spacingAndGlyphs">construction begins!</text>
<text x="44.0" y="692.0" font-size="7.5" fill="#475c28" textLength="446.4" lengthAdjust="spacingAndGlyphs">The timeline above follows the statutory processes needed to obtain the necessary funding to develop schemes such as the A62 to Cooper</text>
<text x="44.0" y="701.4" font-size="7.5" fill="#475c28" textLength="424.4" lengthAdjust="spacingAndGlyphs">Bridge Corridor Improvement Scheme. All stages are subject to review and scrutiny by the Combined Authority’s governance board.</text>
<text x="40.8" y="741.0" font-size="9" fill="#6d6e71" textLength="59.4" lengthAdjust="spacingAndGlyphs">Developed and</text>
<text x="40.8" y="751.3" font-size="9" fill="#6d6e71" textLength="55.7" lengthAdjust="spacingAndGlyphs">supported by:</text>
<path fill="#1d1d1f" d="M165.41,744.05 L165.70,744.63 L165.84,745.18 L165.91,745.73 L165.92,746.28 L165.89,746.84 L165.82,747.41 L165.71,748.00 L165.55,748.62 L165.36,749.28 L165.11,749.97 L164.82,750.72 L164.47,751.54 L165.66,752.72 L166.59,752.12 L167.35,751.36 L167.95,750.49 L168.39,749.55 L168.65,748.57 L168.74,747.59 L168.66,746.64 L168.42,745.74 L168.03,744.92 L167.51,744.21 L166.86,743.64 L166.07,743.24Z M163.70,746.08 L163.49,746.69 L163.20,747.18 L162.86,747.62 L162.49,748.02 L162.07,748.39 L161.61,748.75 L161.11,749.09 L160.57,749.42 L159.97,749.74 L159.30,750.06 L158.57,750.38 L157.74,750.72 L157.74,752.39 L158.82,752.62 L159.90,752.62 L160.94,752.44 L161.91,752.08 L162.79,751.57 L163.55,750.94 L164.17,750.21 L164.63,749.40 L164.94,748.55 L165.07,747.68 L165.02,746.82 L164.74,745.98Z M161.05,746.31 L160.47,746.60 L159.92,746.74 L159.37,746.81 L158.82,746.82 L158.26,746.79 L157.69,746.72 L157.10,746.61 L156.48,746.45 L155.82,746.26 L155.13,746.01 L154.38,745.72 L153.56,745.37 L152.38,746.56 L152.98,747.49 L153.74,748.25 L154.61,748.85 L155.55,749.29 L156.53,749.55 L157.51,749.64 L158.46,749.56 L159.36,749.32 L160.18,748.93 L160.89,748.41 L161.46,747.76 L161.86,746.97Z M159.02,744.60 L158.41,744.39 L157.92,744.10 L157.48,743.76 L157.08,743.39 L156.71,742.97 L156.35,742.51 L156.01,742.01 L155.68,741.47 L155.36,740.87 L155.04,740.20 L154.72,739.47 L154.38,738.64 L152.71,738.64 L152.48,739.72 L152.48,740.80 L152.66,741.84 L153.02,742.81 L153.53,743.69 L154.16,744.45 L154.89,745.07 L155.70,745.53 L156.55,745.84 L157.42,745.97 L158.28,745.92 L159.12,745.64Z M158.79,741.95 L158.50,741.37 L158.36,740.82 L158.29,740.27 L158.28,739.72 L158.31,739.16 L158.38,738.59 L158.49,738.00 L158.65,737.38 L158.84,736.72 L159.09,736.03 L159.38,735.28 L159.73,734.46 L158.54,733.28 L157.61,733.88 L156.85,734.64 L156.25,735.51 L155.81,736.45 L155.55,737.43 L155.46,738.41 L155.54,739.36 L155.78,740.26 L156.17,741.08 L156.69,741.79 L157.34,742.36 L158.13,742.76Z M160.50,739.92 L160.71,739.31 L161.00,738.82 L161.34,738.38 L161.71,737.98 L162.13,737.61 L162.59,737.25 L163.09,736.91 L163.63,736.58 L164.23,736.26 L164.90,735.94 L165.63,735.62 L166.46,735.28 L166.46,733.61 L165.38,733.38 L164.30,733.38 L163.26,733.56 L162.29,733.92 L161.41,734.43 L160.65,735.06 L160.03,735.79 L159.57,736.60 L159.26,737.45 L159.13,738.32 L159.18,739.18 L159.46,740.02Z M163.15,739.69 L163.73,739.40 L164.28,739.26 L164.83,739.19 L165.38,739.18 L165.94,739.21 L166.51,739.28 L167.10,739.39 L167.72,739.55 L168.38,739.74 L169.07,739.99 L169.82,740.28 L170.64,740.63 L171.82,739.44 L171.22,738.51 L170.46,737.75 L169.59,737.15 L168.65,736.71 L167.67,736.45 L166.69,736.36 L165.74,736.44 L164.84,736.68 L164.02,737.07 L163.31,737.59 L162.74,738.24 L162.34,739.03Z M165.18,741.40 L165.79,741.61 L166.28,741.90 L166.72,742.24 L167.12,742.61 L167.49,743.03 L167.85,743.49 L168.19,743.99 L168.52,744.53 L168.84,745.13 L169.16,745.80 L169.48,746.53 L169.82,747.36 L171.49,747.36 L171.72,746.28 L171.72,745.20 L171.54,744.16 L171.18,743.19 L170.67,742.31 L170.04,741.55 L169.31,740.93 L168.50,740.47 L167.65,740.16 L166.78,740.03 L165.92,740.08 L165.08,740.36Z"/>
<text x="175.2" y="748.3" font-size="19.8" fill="#1d1d1f" textLength="62.3" lengthAdjust="spacingAndGlyphs">Kirklees</text>
<text x="175.2" y="754.9" font-size="6.1" fill="#1d1d1f" textLength="27.0" lengthAdjust="spacingAndGlyphs">COUNCIL</text>
<rect x="333.1" y="732.9" width="3.4" height="21.0" fill="#454547"/>
<rect x="333.1" y="750.7" width="17.6" height="3.2" fill="#454547"/>
<rect x="347.7" y="732.9" width="3.0" height="21.0" fill="#454547"/>
<rect x="340.5" y="736.1" width="7.4" height="3.3" fill="#454547"/>
<rect x="340.5" y="743.0" width="7.4" height="3.6" fill="#454547"/>
<path fill="#454547" fill-rule="evenodd" d="M350.5,732.9 h3.1 a5.5,5.5 0 0 1 0,11 h-3.1 Z M350.5,736.1 h2.9 a2.4,2.4 0 0 1 0,4.8 h-2.9 Z"/>
<text x="362.7" y="739.8" font-size="6.4" fill="#454547" font-weight="bold" textLength="56.3" lengthAdjust="spacingAndGlyphs">Leeds City Region</text>
<text x="362.7" y="746.8" font-size="6.4" fill="#454547" font-weight="bold" textLength="32.1" lengthAdjust="spacingAndGlyphs">Enterprise</text>
<text x="362.7" y="753.7" font-size="6.4" fill="#454547" font-weight="bold" textLength="35.1" lengthAdjust="spacingAndGlyphs">Partnership</text>
<rect x="541.1" y="729.1" width="0.9" height="29.5" fill="#1a9c92"/>
<text x="550.1" y="737.4" font-size="10.8" fill="#1a9c92" font-weight="bold" textLength="28.3" lengthAdjust="spacingAndGlyphs">West</text>
<text x="545.4" y="747.7" font-size="10.8" fill="#1a9c92" font-weight="bold" textLength="48.9" lengthAdjust="spacingAndGlyphs">Yorkshire</text>
<text x="558.9" y="753.3" font-size="6.2" fill="#3aaea5" textLength="27.1" lengthAdjust="spacingAndGlyphs">Combined</text>
<text x="553.9" y="758.3" font-size="6.2" fill="#3aaea5" textLength="24.8" lengthAdjust="spacingAndGlyphs">Authority</text>
<text x="537.6" y="740.9" font-size="3.4" fill="#1a9c92" font-weight="bold" text-anchor="end" textLength="16.5" lengthAdjust="spacingAndGlyphs">Working in</text>
<text x="537.6" y="745.2" font-size="3.4" fill="#1a9c92" font-weight="bold" text-anchor="end" textLength="17.5" lengthAdjust="spacingAndGlyphs">partnership</text>
<text x="537.6" y="749.7" font-size="3.4" fill="#1a9c92" font-weight="bold" text-anchor="end" textLength="12.5" lengthAdjust="spacingAndGlyphs">with the</text>
<rect x="701.2" y="734.1" width="73.7" height="22.7" fill="#1f83c6"/>
<text x="705.0" y="743.6" font-size="7.5" fill="#fff" font-weight="bold" textLength="46.7" lengthAdjust="spacingAndGlyphs">NORTHERN</text>
<text x="705.0" y="752.8" font-size="8.2" fill="#fff" font-weight="bold" textLength="66.0" lengthAdjust="spacingAndGlyphs">POWERHOUSE</text>
<rect x="753.3" y="739.2" width="3.2" height="0.8" fill="#7fb8e0"/>
<rect x="753.3" y="741.6" width="17.5" height="0.9" fill="#4f9fd4"/>
<rect x="753.3" y="743.0" width="14.0" height="0.6" fill="#4f9fd4"/>
<text x="884.7" y="742.6" font-size="14.5" fill="#6d6e71" textLength="68.3" lengthAdjust="spacingAndGlyphs">Calderdale</text>
<text x="927.5" y="752.1" font-size="7.8" fill="#6d6e71" textLength="25.5" lengthAdjust="spacingAndGlyphs">Council</text>
<path fill="#4db848" d="M884.7,751.3 C885.5,750.8 887.5,749.3 889.6,748.5 C891.7,747.7 895.0,746.8 897.5,746.6 C900.0,746.4 901.9,746.8 904.4,747.4 C906.9,748.0 909.8,749.4 912.2,750.4 C914.7,751.4 916.3,752.7 919.1,753.6 C921.9,754.5 925.8,755.6 928.9,755.7 C932.0,755.8 936.3,754.5 937.8,754.3 L937.8,754.3 C936.3,754.9 931.7,757.2 928.9,758.0 C926.1,758.8 924.0,759.2 921.1,758.9 C918.2,758.6 914.4,757.2 911.3,756.0 C908.2,754.8 905.2,752.6 902.4,751.6 C899.6,750.6 897.5,749.8 894.6,749.7 C891.7,749.7 886.4,751.0 884.7,751.3 Z"/>
</svg>
</body></html>
